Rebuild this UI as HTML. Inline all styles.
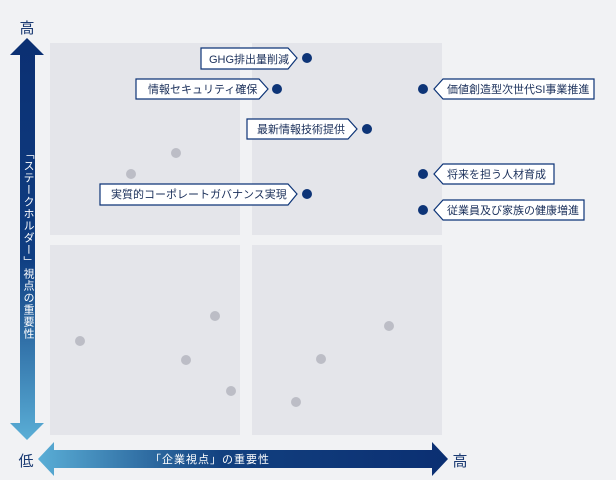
<!DOCTYPE html>
<html><head><meta charset="utf-8"><style>
body{margin:0;width:616px;height:480px;background:#f1f2f4;overflow:hidden;font-family:"Liberation Sans","Noto Sans CJK JP",sans-serif}
</style></head><body>
<svg width="616" height="480" xmlns="http://www.w3.org/2000/svg" style="position:absolute;left:0;top:0;font-family:'Liberation Sans','Noto Sans CJK JP',sans-serif">
<defs>
<linearGradient id="gv" x1="0" y1="0" x2="0" y2="1"><stop offset="0" stop-color="#0b2f72"/><stop offset="0.55" stop-color="#0f3e82"/><stop offset="1" stop-color="#5aaed6"/></linearGradient>
<linearGradient id="gh" x1="0" y1="0" x2="1" y2="0"><stop offset="0" stop-color="#5aaed6"/><stop offset="0.45" stop-color="#12407f"/><stop offset="1" stop-color="#0b2f72"/></linearGradient>
</defs>
<rect x="50" y="43" width="190" height="192" fill="#e4e5ea"/>
<rect x="252" y="43" width="190" height="192" fill="#e4e5ea"/>
<rect x="50" y="245" width="190" height="190" fill="#e4e5ea"/>
<rect x="252" y="245" width="190" height="190" fill="#e4e5ea"/>
<text x="27" y="33" font-size="15" fill="#1a3a72" text-anchor="middle">高</text>
<polygon points="27,38 44,55 35,55 35,423 44,423 27,440 10,423 20,423 20,55 10,55" fill="url(#gv)"/>
<text x="28" y="148" font-size="11" fill="#fff" style="writing-mode:vertical-rl;letter-spacing:1px" text-anchor="start">「ステークホルダー」視点の重要性</text>
<text x="26" y="466" font-size="15" fill="#1a3a72" text-anchor="middle">低</text>
<polygon points="38,459 54,442 54,450 432,450 432,442 448,459 432,476 432,468 54,468 54,476" fill="url(#gh)"/>
<text x="210" y="463" font-size="11" fill="#fff" text-anchor="middle" letter-spacing="1">「企業視点」の重要性</text>
<text x="460" y="466" font-size="15" fill="#1a3a72" text-anchor="middle">高</text>
<g fill="#bcbdc6">
<circle cx="176" cy="153" r="5"/><circle cx="131" cy="174" r="5"/><circle cx="215" cy="316" r="5"/><circle cx="80" cy="341" r="5"/><circle cx="186" cy="360" r="5"/><circle cx="231" cy="391" r="5"/><circle cx="389" cy="326" r="5"/><circle cx="321" cy="359" r="5"/><circle cx="296" cy="402" r="5"/>
</g>
<g fill="#fff" stroke="#0d3477" stroke-width="1.2">
<polygon points="201,48 288,48 297,58 288,69 201,69"/>
<polygon points="136,79 259,79 268,89 259,99 136,99"/>
<polygon points="247,119 348,119 357,129 348,139 247,139"/>
<polygon points="100,184 288,184 297,194 288,205 100,205"/>
<polygon points="443,79 594,79 594,99 443,99 434,89"/>
<polygon points="443,164 554,164 554,184 443,184 434,174"/>
<polygon points="443,200 584,200 584,220 443,220 434,210"/>
</g>
<g fill="#0d3477">
<circle cx="307" cy="58" r="5"/><circle cx="277" cy="89" r="5"/><circle cx="367" cy="129" r="5"/><circle cx="307" cy="194" r="5"/>
<circle cx="423" cy="89" r="5"/><circle cx="423" cy="174" r="5"/><circle cx="423" cy="210" r="5"/>
</g>
<g font-size="11" fill="#1a2f5a">
<text x="209" y="63">GHG排出量削減</text>
<text x="148" y="93">情報セキュリティ確保</text>
<text x="257" y="133">最新情報技術提供</text>
<text x="111" y="198">実質的コーポレートガバナンス実現</text>
<text x="447" y="93">価値創造型次世代SI事業推進</text>
<text x="447" y="178">将来を担う人材育成</text>
<text x="447" y="214">従業員及び家族の健康増進</text>
</g>
</svg>
</body></html>
